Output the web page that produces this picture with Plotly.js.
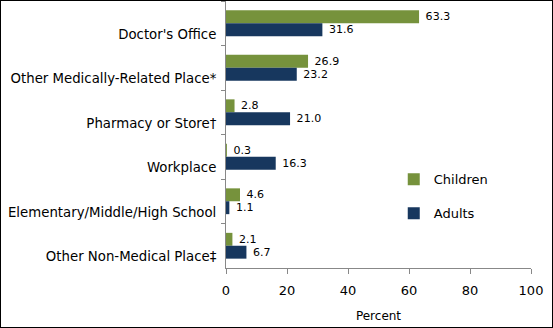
<!DOCTYPE html>
<html><head><meta charset="utf-8">
<script src="https://cdn.plot.ly/plotly-3.0.1.min.js"></script>
<style>
html,body{margin:0;padding:0;background:#fff;}
#chart{width:551px;height:326px;border:1px solid #000;}
</style></head>
<body><div id="chart"></div>
<script>
const categories = ["Doctor's Office", "Other Medically-Related Place*", "Pharmacy or Store\u2020", "Workplace", "Elementary/Middle/High School", "Other Non-Medical Place\u2021"];
const children = [63.3, 26.9, 2.8, 0.3, 4.6, 2.1];
const adults = [31.6, 23.2, 21.0, 16.3, 1.1, 6.7];
const xTicks = [0, 20, 40, 60, 80, 100];

const font = {family: 'DejaVu Sans, Verdana, sans-serif', size: 12, color: '#000'};
const common = {
  type: 'bar', orientation: 'h', y: categories,
  texttemplate: '\u00a0%{x:.1f}', textposition: 'outside', cliponaxis: false,
  textfont: {family: font.family, size: 12, color: '#000'},
  hoverinfo: 'none'
};
const data = [
  Object.assign({}, common, {name: 'Children', x: children, marker: {color: '#76923C'}, legendgroup: 'c'}),
  Object.assign({}, common, {name: 'Adults', x: adults, marker: {color: '#17375E'}, legendgroup: 'a'})
];
const layout = {
  width: 551, height: 326,
  margin: {l: 225, r: 21, t: 0, b: 59},
  paper_bgcolor: '#fff', plot_bgcolor: '#fff',
  font: font,
  barmode: 'group', bargap: 0.42, bargroupgap: 0,
  showlegend: true,
  legend: {x: 0.55, xanchor: 'left', y: 0.388, yanchor: 'top', traceorder: 'grouped', tracegroupgap: 14,
           font: {family: font.family, size: 13, color: '#000'}, itemwidth: 30, bgcolor: 'rgba(0,0,0,0)'},
  xaxis: {range: [0, 100], tickvals: xTicks, ticktext: xTicks.map(String), showgrid: false, zeroline: false,
          showline: true, linecolor: '#888', linewidth: 1, ticks: 'outside', ticklen: 5, tickcolor: '#888',
          ticklabelstandoff: 5,
          tickfont: {family: font.family, size: 13, color: '#000'},
          title: {text: 'Percent', font: {family: font.family, size: 12, color: '#000'}, standoff: 15}},
  yaxis: {autorange: 'reversed', showgrid: false, zeroline: false, showline: true, linecolor: '#888', linewidth: 1,
          ticks: 'outside', ticklen: 4, tickcolor: '#888', tickson: 'boundaries',
          ticklabelstandoff: 6, ticklabelshift: -11,
          tickfont: {family: font.family, size: 13.3, color: '#000'}}
};
Plotly.newPlot('chart', data, layout, {displayModeBar: false, staticPlot: true});
</script></body></html>
